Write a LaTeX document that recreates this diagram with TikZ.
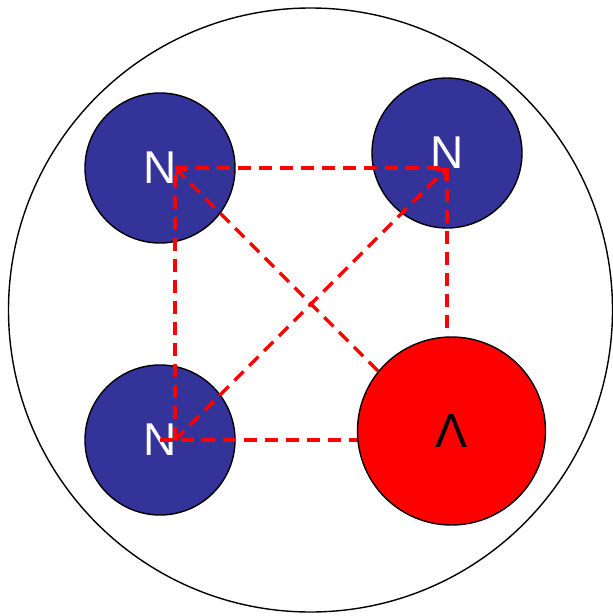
\documentclass[tikz,border=0pt]{standalone}
\usepackage{fontspec}
\setmainfont{Liberation Sans}
\usetikzlibrary{arrows.meta}

\definecolor{nucblue}{HTML}{333399}
\definecolor{hypred}{HTML}{FF0000}

\begin{document}
\begin{tikzpicture}[x=1pt, y=-1pt,
    nucleon/.style ={circle, draw=black, line width=1.4pt, fill=nucblue, text=white,
                     minimum size=150pt, inner sep=0pt, font=\fontsize{46}{46}\selectfont},
    hyperon/.style ={circle, draw=black, line width=1.4pt, fill=hypred, text=black,
                     minimum size=188pt, inner sep=0pt, font=\fontsize{48}{48}\selectfont},
    bond/.style    ={draw=hypred, line width=3.2pt, dash pattern=on 13pt off 8pt},
    bondarrow/.style={bond, -{Straight Barb[length=7pt, width=14pt, line width=3.2pt]}}
]
\useasboundingbox (0,0) rectangle (613,616);

% ---------- nucleus ----------
\draw[line width=1.4pt] (310.5,310) circle (302);

% ---------- nucleons ----------
\node[nucleon] (ntl) at (160,168) {N};
\node[nucleon] (ntr) at (447,153) {N};
\node[nucleon] (nbl) at (160,440) {N};

% ---------- line ends ----------
\coordinate (tlEnd) at (175,168);
\coordinate (trEnd) at (447,168);
\coordinate (blEnd) at (175,440);
\coordinate (blLeft) at (160,440);
\coordinate (lamTop) at (447,336);
\coordinate (lamLeft) at (358,440);
\coordinate (lamUp) at (378,371);

% ---------- interactions ----------
\draw[bond] (blEnd) -- (tlEnd);
\draw[bond] (tlEnd) -- (trEnd);
\draw[bond] (trEnd) -- (lamTop);
\draw[bond] (blLeft) -- (lamLeft);
\draw[bondarrow] (blEnd) -- (trEnd);
\draw[bondarrow] (lamUp) -- (tlEnd);

% ---------- lambda ----------
\node[hyperon] (lam) at (451.5,431) {Λ};

\end{tikzpicture}
\end{document}
